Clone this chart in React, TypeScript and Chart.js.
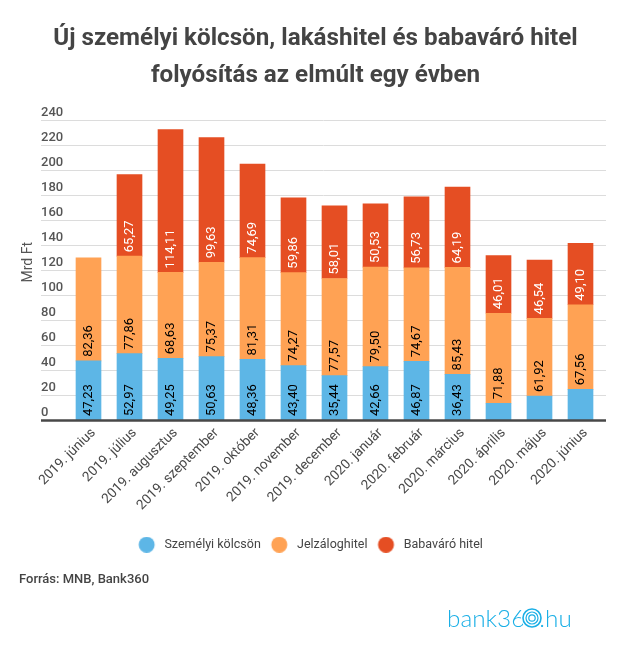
import React, { useEffect, useRef } from "react";
import { Chart, registerables } from "chart.js";

Chart.register(...registerables);

const months = [
  "2019. június", "2019. július", "2019. augusztus", "2019. szeptember", "2019. október",
  "2019. november", "2019. december", "2020. január", "2020. február", "2020. március",
  "2020. április", "2020. május", "2020. június",
];
// last three are not labelled in the picture
const szemelyi = [47.23, 52.97, 49.25, 50.63, 48.36, 43.4, 35.44, 42.66, 46.87, 36.43, 13.4, 19.2, 24.5];
const jelzalog = [82.36, 77.86, 68.63, 75.37, 81.31, 74.27, 77.57, 79.5, 74.67, 85.43, 71.88, 61.92, 67.56];
const babavaro = [null, 65.27, 114.11, 99.63, 74.69, 59.86, 58.01, 50.53, 56.73, 64.19, 46.01, 46.54, 49.1];

const BLUE = "#5DB6E6";
const ORANGE = "#FFA254";
const RED = "#E54E23";
const LOGO = "#1AAFE6";
const GRID_LEFT = 41;
const GRID_RIGHT = 606;
const ZERO_Y = 419.5;
const TOP_Y = 119.5;
const LEGEND_TOP = 531;
const FONT = "Roboto";

// grid lines run wider than the bars' category band, so they are drawn here
const gridPlugin = {
  id: "wideGrid",
  afterLayout(chart: any) {
    // "Mrd Ft" sits a little above the middle of the axis
    chart.scales.yTitle.bottom -= 15;
  },
  beforeDatasetsDraw(chart: any) {
    const { ctx, scales } = chart;
    ctx.save();
    ctx.strokeStyle = "#dcdcdc";
    ctx.lineWidth = 1;
    scales.y.ticks.forEach((t: any) => {
      if (t.value === 0) return;
      const y = Math.round(scales.y.getPixelForValue(t.value)) + 0.5;
      ctx.beginPath();
      ctx.moveTo(GRID_LEFT, y);
      ctx.lineTo(GRID_RIGHT, y);
      ctx.stroke();
    });
    ctx.restore();
  },
  afterDatasetsDraw(chart: any) {
    const { ctx, scales } = chart;
    ctx.save();
    ctx.strokeStyle = "#484848";
    ctx.lineWidth = 2.5;
    const y = scales.y.getPixelForValue(0) + 0.5;
    ctx.beginPath();
    ctx.moveTo(GRID_LEFT, y);
    ctx.lineTo(GRID_RIGHT, y);
    ctx.stroke();
    ctx.restore();
  },
};

// vertical value labels at the base of each segment
const valueLabels = {
  id: "valueLabels",
  afterDatasetsDraw(chart: any) {
    const { ctx } = chart;
    chart.data.datasets.forEach((ds: any, i: number) => {
      chart.getDatasetMeta(i).data.forEach((bar: any, j: number) => {
        const v = ds.data[j];
        if (v == null || v < 30) return;
        ctx.save();
        ctx.translate(bar.x, bar.base - 4);
        ctx.rotate(-Math.PI / 2);
        ctx.font = `400 13px ${FONT}`;
        ctx.fillStyle = i === 2 ? "#ffffff" : "#000000";
        ctx.textAlign = "left";
        ctx.textBaseline = "middle";
        ctx.fillText(v.toFixed(2).replace(".", ","), 0, 0);
        ctx.restore();
      });
    });
  },
};

// legend dot with more air on its right than the library's default gap
function legendDot(color: string) {
  const c = document.createElement("canvas");
  c.width = 23;
  c.height = 16;
  const g = c.getContext("2d")!;
  g.fillStyle = color;
  g.beginPath();
  g.arc(11.5, 8, 8, 0, Math.PI * 2);
  g.fill();
  return c;
}

export default function App() {
  const ref = useRef<HTMLCanvasElement>(null);

  useEffect(() => {
    document.body.style.margin = "0";
    const chart = new Chart(ref.current!, {
      type: "bar",
      data: {
        labels: months,
        datasets: [
          { label: "Személyi kölcsön", data: szemelyi, yAxisID: "y", backgroundColor: BLUE, pointStyle: legendDot(BLUE) },
          { label: "Jelzáloghitel", data: jelzalog, yAxisID: "y", backgroundColor: ORANGE, pointStyle: legendDot(ORANGE) },
          { label: "Babaváró hitel", data: babavaro as any, yAxisID: "y", backgroundColor: RED, pointStyle: legendDot(RED) },
        ],
      },
      options: {
        animation: false,
        responsive: false,
        datasets: { bar: { barThickness: 25 } },
        layout: { padding: { top: TOP_Y, left: 17, right: 30, bottom: 86 } },
        plugins: {
          tooltip: { enabled: false },
          legend: {
            position: "bottom",
            labels: {
              usePointStyle: true,
              pointStyleWidth: 23,
              boxHeight: 11.3,
              padding: 7,
              color: "#444",
              font: { family: FONT, size: 12.5 },
            },
          },
        },
        scales: {
          x: {
            stacked: true,
            grid: { display: false },
            border: { display: false },
            afterFit: (s: any) => { s.height = LEGEND_TOP - ZERO_Y; },
            ticks: {
              minRotation: 45,
              maxRotation: 45,
              autoSkip: false,
              padding: -3,
              labelOffset: 5,
              color: "#484848",
              font: { family: FONT, size: 13.6 },
            },
          },
          yTitle: {
            position: "left",
            weight: 1,
            min: 0,
            max: 240,
            afterFit: (s: any) => { s.width = 24; },
            grid: { display: false },
            border: { display: false },
            ticks: { display: false },
            title: {
              display: true,
              text: "Mrd Ft",
              color: "#555",
              padding: { top: 2.6, bottom: 0 },
              font: { family: FONT, size: 14 },
            },
          },
          y: {
            position: "left",
            stacked: true,
            min: 0,
            max: 240,
            afterFit: (s: any) => { s.width = 27; },
            grid: { display: false },
            border: { display: false },
            ticks: {
              stepSize: 20,
              padding: 0,
              labelOffset: -7,
              crossAlign: "far",
              color: "#555",
              font: { family: FONT, size: 13, weight: 500 },
            },
          },
        },
      },
      plugins: [gridPlugin, valueLabels],
    } as any);
    return () => chart.destroy();
  }, []);

  return (
    <div style={{ position: "relative", width: 631, height: 647, background: "#fff", overflow: "hidden" }}>
      <canvas ref={ref} width={631} height={647} style={{ position: "absolute", left: 0, top: 0 }} />
      <div style={{ position: "absolute", left: 0, top: 18.5, width: 631, textAlign: "center", font: `700 24.2px/37.5px ${FONT}`, color: "#444" }}>
        Új személyi kölcsön, lakáshitel és babaváró hitel
        <br />
        folyósítás az elmúlt egy évben
      </div>
      <div style={{ position: "absolute", left: 19, top: 571, font: `500 13px/16px ${FONT}`, color: "#444" }}>
        Forrás: MNB, Bank360
      </div>
      <div style={{ position: "absolute", left: 447, top: 601, font: `300 24.3px/34px Lato`, color: LOGO }}>
        bank360.hu
      </div>
      {/* the logo's zero is a set of rings */}
      <svg style={{ position: "absolute", left: 520, top: 606 }} width={24} height={24} fill="none" stroke={LOGO} strokeWidth={1.2}>
        <circle cx={12} cy={12} r={11} fill="#fff" stroke="none" />
        <circle cx={12} cy={12} r={9} strokeWidth={1.6} />
        <circle cx={12} cy={12} r={6} />
        <circle cx={12} cy={12} r={3.2} />
      </svg>
    </div>
  );
}
